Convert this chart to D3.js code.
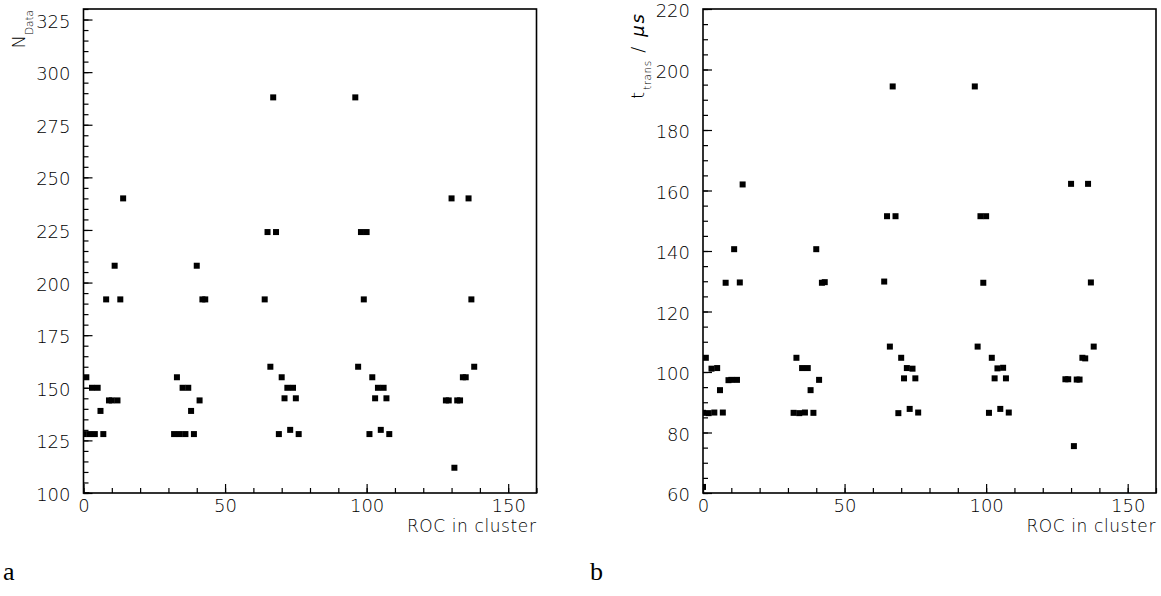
<!DOCTYPE html>
<html>
<head>
<meta charset="utf-8">
<script src="https://cdn.jsdelivr.net/npm/d3@7"></script>
<style>
  body { margin: 0; background: #fff; }
  svg text { fill: #000; }
</style>
</head>
<body>
<svg id="chart" width="1161" height="596"></svg>
<script>
// ROC index inside the cluster (x of both panels)
var rocIds = [0,1,2,3,4,5,6,7,8,9,10,11,12,13,14,
              32,33,34,35,36,37,38,39,40,41,42,43,
              64,65,66,67,68,69,70,71,72,73,74,75,76,
              96,97,98,99,100,101,102,103,104,105,106,107,108,
              128,129,130,131,132,133,134,135,136,137,138];

// panel a : number of data words per ROC
var nData = [128,155,128,150,128,150,139,128,192,144,144,208,144,192,240,
             128,155,128,150,128,150,139,128,208,144,192,192,
             192,224,160,288,224,128,155,145,150,130,150,145,128,
             288,160,224,192,224,128,155,145,150,130,150,145,128,
             144,144,240,112,144,144,155,155,240,192,160];

// panel b : transfer time per ROC in microseconds
var tTrans = [86.5,104.7,86.4,101.1,86.6,101.3,94.0,86.6,129.5,97.3,97.4,140.6,97.4,129.6,162.0,
              86.5,104.7,86.4,101.3,86.6,101.3,94.0,86.5,140.6,97.4,129.5,129.7,
              129.9,151.5,108.4,194.4,151.5,86.4,104.7,97.9,101.3,87.8,101.1,97.9,86.6,
              194.4,108.4,151.5,129.5,151.5,86.5,104.7,97.9,101.2,87.8,101.4,97.9,86.6,
              97.6,97.6,162.2,75.5,97.5,97.5,104.7,104.5,162.2,129.6,108.4];

// points sitting on the lower frame edge (mostly clipped)
var edgeRocA = [1],  edgeNData = [99];
var edgeRocB = [0],  edgeTTrans = [62];

var xTicks = [0, 50, 100, 150];
var yTicksA = [100, 125, 150, 175, 200, 225, 250, 275, 300, 325];
var yTicksB = [60, 80, 100, 120, 140, 160, 180, 200, 220];

var sans = "'DejaVu Sans', sans-serif";
var svg = d3.select("#chart");
var top0 = 9, bottom0 = 493;

function drawPanel(id, left, right, yDomain, yMajor, yMinorStep, xs, ys) {
  var x = d3.scaleLinear().domain([0, 160]).range([left, right]);
  var y = d3.scaleLinear().domain(yDomain).range([bottom0, top0]);
  var g = svg.append("g");

  g.append("clipPath").attr("id", id)
    .append("rect").attr("x", left).attr("y", top0)
    .attr("width", right - left).attr("height", bottom0 - top0);

  // minor ticks
  g.append("g").attr("transform", "translate(0," + bottom0 + ")")
    .call(d3.axisBottom(x).tickValues(d3.range(0, 161, 10)).tickSize(-5).tickFormat(""));
  g.append("g").attr("transform", "translate(" + left + ",0)")
    .call(d3.axisLeft(y).tickValues(d3.range(yDomain[0], yDomain[1] + 0.1, yMinorStep)).tickSize(-5).tickFormat(""));

  // major ticks + labels
  g.append("g").attr("transform", "translate(0," + bottom0 + ")")
    .call(d3.axisBottom(x).tickValues(xTicks).tickSize(-9).tickPadding(6).tickFormat(d3.format("d")));
  var ya = g.append("g").attr("transform", "translate(" + left + ",0)")
    .call(d3.axisLeft(y).tickValues(yMajor).tickSize(-9).tickPadding(13).tickFormat(d3.format("d")));
  ya.selectAll("text").attr("dy", "0.42em");

  g.selectAll(".domain").remove();
  g.selectAll(".tick line").attr("stroke", "#000").attr("stroke-width", 1.2);
  g.selectAll(".tick text").attr("font-size", 18).style("font-family", sans)
    .style("font-weight", 200).attr("fill", "#000");

  // frame
  g.append("rect").attr("x", left).attr("y", top0)
    .attr("width", right - left).attr("height", bottom0 - top0)
    .attr("fill", "none").attr("stroke", "#000").attr("stroke-width", 1.6);

  // markers
  var pts = g.append("g").attr("clip-path", "url(#" + id + ")");
  pts.selectAll("rect.pt").data(d3.range(xs.length)).enter().append("rect")
    .attr("class", "pt")
    .attr("x", function(i) { return x(xs[i]) - 3; })
    .attr("y", function(i) { return y(ys[i]) - 3; })
    .attr("width", 6).attr("height", 6).attr("fill", "#000");

  // x title
  g.append("text").attr("x", right).attr("y", 532)
    .attr("text-anchor", "end").attr("font-size", 17).attr("letter-spacing", 0.6)
    .style("font-family", sans).style("font-weight", 200)
    .text("ROC in cluster");
  return g;
}

var ga = drawPanel("clipA", 83.5, 536.5, [100, 330], yTicksA, 5,
                   rocIds.concat(edgeRocA), nData.concat(edgeNData));
var gb = drawPanel("clipB", 703, 1156, [60, 220], yTicksB, 5,
                   rocIds.concat(edgeRocB), tTrans.concat(edgeTTrans));

// y titles
var ta = ga.append("text").attr("transform", "translate(25,10) rotate(-90)")
  .attr("text-anchor", "end").attr("font-size", 18)
  .style("font-family", sans).style("font-weight", 200);
ta.append("tspan").text("N");
ta.append("tspan").attr("font-size", 10.5).attr("dy", 8).text("Data");

var tb = gb.append("text").attr("transform", "translate(643.5,12) rotate(-90)")
  .attr("text-anchor", "end").attr("font-size", 18).attr("letter-spacing", 2)
  .style("font-family", sans).style("font-weight", 200);
tb.append("tspan").text("t");
tb.append("tspan").attr("font-size", 10.5).attr("dy", 7).attr("letter-spacing", 0.5).text("trans");
tb.append("tspan").attr("dy", -7).text(" / ");
tb.append("tspan").style("font-style", "italic").text("\u03bcs");

// panel letters
svg.append("text").attr("x", 3).attr("y", 580).style("font-family", "'Liberation Serif', serif")
  .attr("font-size", 26).text("a");
svg.append("text").attr("x", 590).attr("y", 580).style("font-family", "'Liberation Serif', serif")
  .attr("font-size", 26).text("b");
</script>
</body>
</html>
